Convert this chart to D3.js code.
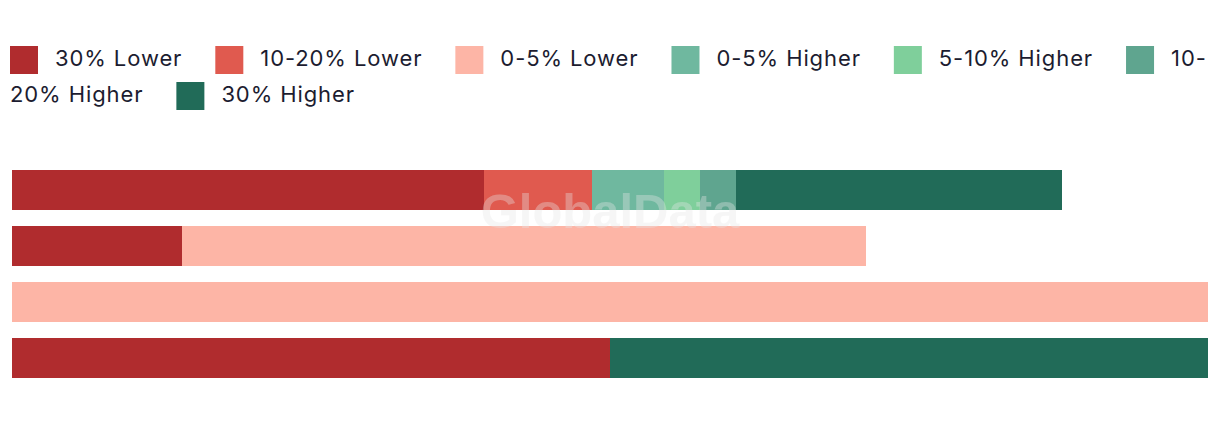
<!DOCTYPE html>
<html>
<head>
<meta charset="utf-8">
<script src="https://cdn.jsdelivr.net/npm/d3@7"></script>
<style>
  body { margin: 0; background: #fff; }
  svg { display: block; font-family: "Inter", "Lato", sans-serif; }
</style>
</head>
<body>
<svg id="chart"></svg>
<script>
// legend categories, in stack order
var keys = ["30% Lower", "10-20% Lower", "0-5% Lower", "0-5% Higher", "5-10% Higher", "10-20% Higher", "30% Higher"];
var colors = ["#b02c2e", "#e05a4f", "#fdb5a6", "#6fb89f", "#7fcf9b", "#5fa58f", "#216b58"];

// bar rows (no labels shown in the chart)
var rows = ["A", "B", "C", "D"];

// share of each row per category
var lower30  = [39.5, 14.2, 0, 50];
var lower10  = [9.0, 0, 0, 0];
var lower0   = [0, 57.2, 100, 0];
var higher0  = [6.0, 0, 0, 0];
var higher5  = [3.0, 0, 0, 0];
var higher10 = [3.0, 0, 0, 0];
var higher30 = [27.3, 0, 0, 50];

var svgWidth = 1220, svgHeight = 422;

var svg = d3.select("#chart")
    .attr("width", svgWidth)
    .attr("height", svgHeight);

var table = rows.map(function(r, i) {
  return {
    row: r,
    "30% Lower": lower30[i],
    "10-20% Lower": lower10[i],
    "0-5% Lower": lower0[i],
    "0-5% Higher": higher0[i],
    "5-10% Higher": higher5[i],
    "10-20% Higher": higher10[i],
    "30% Higher": higher30[i]
  };
});

var series = d3.stack().keys(keys)(table);

var color = d3.scaleOrdinal().domain(keys).range(colors);

var xScale = d3.scaleLinear()
    .domain([0, 100])
    .range([12, 1208]);

var yScale = d3.scaleBand()
    .domain(rows)
    .range([170, 378])
    .paddingInner(16 / 56)
    .paddingOuter(0);

svg.append("g")
    .attr("shape-rendering", "crispEdges")
  .selectAll("g")
  .data(series)
  .join("g")
    .attr("fill", function(d) { return color(d.key); })
  .selectAll("rect")
  .data(function(d) { return d; })
  .join("rect")
    .attr("x", function(d) { return xScale(d[0]); })
    .attr("y", function(d) { return yScale(d.data.row); })
    .attr("width", function(d) { return xScale(d[1]) - xScale(d[0]); })
    .attr("height", yScale.bandwidth());

// watermark
svg.append("text")
    .attr("x", 610)
    .attr("y", 228)
    .attr("text-anchor", "middle")
    .attr("font-family", "Liberation Sans, Arial, sans-serif")
    .attr("font-weight", "bold")
    .attr("font-size", 49)
    .attr("fill", "#e8e8e8")
    .attr("opacity", 0.35)
    .text("GlobalData");

// legend, flowing left to right and wrapping at hyphens like the original
var legend = svg.append("g").attr("class", "legend");
var fontSize = 22, lineH = 36, sw = 28, gapText = 17, gapItem = 33;
var left = 10, maxX = 1210;
var lx = left, ly = 66;

function legendText(x, y, s) {
  return legend.append("text")
      .attr("x", x)
      .attr("y", y)
      .attr("font-size", fontSize)
      .attr("letter-spacing", 0.9)
      .attr("fill", "#1c1c30")
      .text(s);
}

keys.forEach(function(k) {
  legend.append("rect")
      .attr("x", lx)
      .attr("y", ly - 20)
      .attr("width", sw)
      .attr("height", sw)
      .attr("fill", color(k));
  lx += sw + gapText;
  var t = legendText(lx, ly, k);
  var w = t.node().getComputedTextLength();
  if (lx + w > maxX && k.indexOf("-") > -1) {
    var cut = k.indexOf("-") + 1;
    t.text(k.slice(0, cut));
    ly += lineH;
    var t2 = legendText(left, ly, k.slice(cut));
    lx = left + t2.node().getComputedTextLength() + gapItem;
  } else {
    lx += w + gapItem;
  }
});
</script>
</body>
</html>
